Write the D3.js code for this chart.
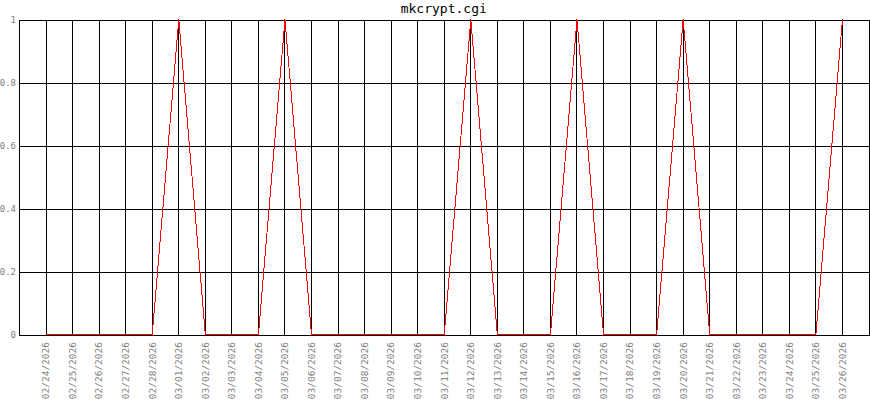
<!DOCTYPE html>
<html>
<head>
<meta charset="utf-8" />
<script src="https://d3js.org/d3.v7.min.js"></script>
<style>
  body { margin: 0; background: #fff; }
  .axis text { fill: #808080; font-family: "DejaVu Sans Mono", monospace; font-size: 9.5px; }
  .axis line, .axis path { stroke: #000; shape-rendering: crispEdges; }
</style>
</head>
<body>
<div id="chart"></div>
<script>
// dates on the x axis
var dates = ["02/24/2026","02/25/2026","02/26/2026","02/27/2026","02/28/2026","03/01/2026",
  "03/02/2026","03/03/2026","03/04/2026","03/05/2026","03/06/2026","03/07/2026","03/08/2026",
  "03/09/2026","03/10/2026","03/11/2026","03/12/2026","03/13/2026","03/14/2026","03/15/2026",
  "03/16/2026","03/17/2026","03/18/2026","03/19/2026","03/20/2026","03/21/2026","03/22/2026",
  "03/23/2026","03/24/2026","03/25/2026","03/26/2026"];
// one value per date
var values = [0,0,0,0,0,1, 0,0,0,1,0,0,0, 0,0,0,1,0,0,0, 1,0,0,0,1,0,0, 0,0,0,1];
var yTicks = [0, 0.2, 0.4, 0.6, 0.8, 1];
var title = "mkcrypt.cgi";

// plot box (note: "top" is reserved on window, so use other names)
// d3 axes add a half pixel themselves, so these are whole pixels
var W = 870, H = 400;
var pLeft = 19, pRight = 868.5, pTop = 20, pBottom = 335;

var svg = d3.select("#chart").append("svg")
  .attr("width", W).attr("height", H);

var x = d3.scalePoint().domain(dates).range([pLeft, pRight]).padding(1);
var y = d3.scaleLinear().domain([0, 1]).range([pBottom, pTop]);

// horizontal grid + labels
var gy = svg.append("g").attr("class", "axis")
  .attr("transform", "translate(" + pLeft + ",0)")
  .call(d3.axisLeft(y).tickValues(yTicks).tickSize(-(pRight - pLeft)).tickPadding(3)
    .tickFormat(function (d) { return String(d); }));
gy.select(".domain").remove();
gy.selectAll("text").style("font-size", "9px");

// vertical grid + rotated labels
var gx = svg.append("g").attr("class", "axis")
  .attr("transform", "translate(0," + pBottom + ")")
  .call(d3.axisBottom(x).tickSize(-(pBottom - pTop)).tickPadding(0));
gx.select(".domain").remove();
gx.selectAll("text")
  .attr("transform", "rotate(-90)")
  .attr("text-anchor", "end")
  .attr("x", -7)
  .attr("y", 0)
  .attr("dy", "0.35em");

// frame
svg.append("rect")
  .attr("x", pLeft + 0.5).attr("y", pTop + 0.5)
  .attr("width", pRight - pLeft).attr("height", pBottom - pTop)
  .attr("fill", "none").attr("stroke", "#000")
  .attr("shape-rendering", "crispEdges");

// series line
var line = d3.line()
  .x(function (d, i) { return x(dates[i]) + 0.5; })
  .y(function (d) { return y(d) - 0.5; });

svg.append("path")
  .datum(values)
  .attr("d", line)
  .attr("fill", "none")
  .attr("stroke", "#ff0000")
  .attr("stroke-width", 1)
  .attr("shape-rendering", "crispEdges");

svg.append("text")
  .attr("x", (pLeft + pRight) / 2)
  .attr("y", 13)
  .attr("text-anchor", "middle")
  .style("font-family", "DejaVu Sans Mono, monospace")
  .style("font-size", "13px")
  .style("fill", "#000")
  .text(title);
</script>
</body>
</html>
